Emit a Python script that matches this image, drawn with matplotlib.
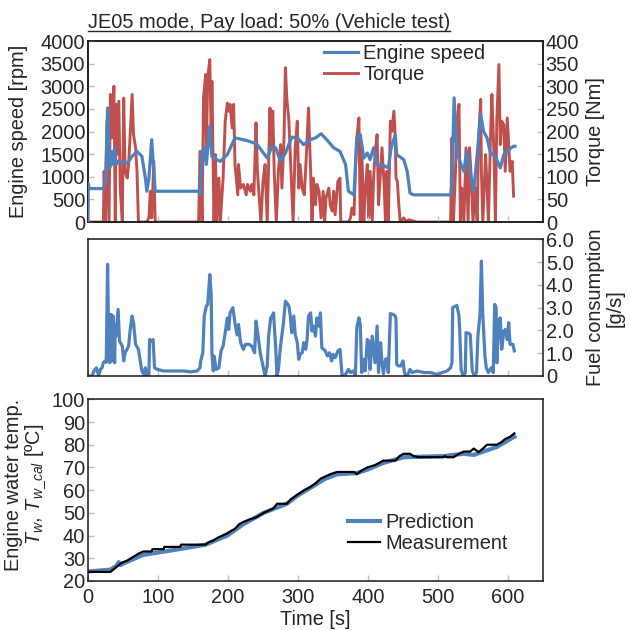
import matplotlib
matplotlib.use("Agg")
import matplotlib.pyplot as plt
from matplotlib.lines import Line2D

plt.rcParams['font.family'] = ['Liberation Sans', 'DejaVu Sans']
plt.rcParams['font.size'] = 14.4
plt.rcParams['mathtext.fontset'] = 'custom'
plt.rcParams['mathtext.rm'] = 'Liberation Sans'
plt.rcParams['mathtext.it'] = 'Liberation Sans:italic'

BLUE = '#4F81BD'
RED = '#C0504D'
TXT = '#262626'
TICK = '#BFBFBF'

# engine speed [rpm]
speed_t = [0, 0.3, 1.5, 22, 25, 28, 31, 33, 34, 38, 40, 43, 56, 63, 70, 77, 82, 84, 87, 91,
           94, 96, 158, 160, 163, 166, 169, 174, 177, 184, 189, 199, 210, 227, 241, 249, 256,
           263, 268, 275, 282, 291, 299, 308, 318, 325, 333, 341, 351, 360, 368, 372, 380,
           384, 389, 394, 399, 403, 408, 413, 422, 429, 433, 439, 441, 451, 456, 460, 465,
           518, 520, 523, 527, 532, 537, 541, 546, 551, 556, 561, 565, 570, 575, 582, 589,
           594, 601, 608, 610]
speed = [0, 850, 740, 740, 900, 2520, 1195, 1560, 1270, 1640, 1270, 1340, 1300, 1450, 1560,
         1450, 970, 680, 970, 1820, 1120, 680, 680, 600, 1560, 1640, 1270, 2120, 1450, 1380,
         1340, 1490, 1860, 1800, 1725, 1560, 1415, 1675, 1640, 1340, 1525, 1875, 1860, 1710,
         1820, 1860, 1950, 1820, 1640, 1560, 1270, 680, 600, 1860, 1930, 1415, 1525, 1380,
         1640, 1270, 1250, 1195, 1640, 1930, 1490, 1380, 1120, 640, 600, 600, 825, 2745, 1560,
         1305, 1120, 1560, 1120, 680, 1490, 2375, 2005, 1860, 1525, 1450, 1195, 1490, 1600,
         1675, 1675]

# torque [Nm]
torque_t = [0, 22, 23, 25, 27, 30, 32, 34, 37, 39, 40, 41, 44, 46, 49, 51, 53, 56, 58, 60,
            63, 65, 68, 70, 72, 84, 87, 89, 91, 94, 96, 158, 160, 163, 165, 168, 169, 171,
            174, 176, 177, 180, 182, 184, 187, 189, 193, 196, 199, 201, 203, 206, 208, 210,
            214, 215, 218, 222, 226, 228, 232, 234, 237, 240, 242, 245, 247, 250, 253, 256,
            260, 261, 264, 266, 269, 272, 275, 277, 280, 282, 284, 287, 290, 293, 296, 299,
            301, 303, 306, 309, 312, 315, 318, 320, 322, 325, 327, 330, 333, 336, 338, 340,
            344, 346, 349, 351, 353, 357, 360, 361, 372, 375, 377, 380, 382, 384, 387, 389,
            391, 394, 396, 399, 401, 403, 406, 408, 410, 413, 415, 418, 420, 423, 425, 427,
            429, 432, 434, 437, 439, 440, 442, 444, 446, 451, 455, 458, 468, 470, 518, 520,
            522, 525, 527, 530, 532, 534, 537, 540, 543, 545, 547, 550, 553, 556, 558, 561,
            562, 564, 568, 570, 572, 575, 577, 580, 582, 584, 587, 589, 591, 594, 596, 599,
            601, 603, 606, 608]
torque = [0, 0, 112, 0, 223, 0, 282, 186, 300, 0, 260, 149, 267, 75, 0, 274, 112, 97, 127,
          186, 282, 193, 164, 112, 0, 0, 9, 68, 9, 134, 0, 0, 156, 0, 274, 326, 149, 319, 359,
          186, 311, 0, 149, 0, 97, 0, 97, 223, 263, 245, 260, 208, 260, 127, 60, 127, 75, 83,
          60, 83, 68, 83, 60, 219, 112, 46, 0, 90, 127, 0, 252, 171, 245, 112, 0, 112, 171,
          75, 186, 341, 274, 223, 112, 0, 164, 223, 75, 127, 75, 60, 149, 252, 112, 0, 97,
          38, 83, 68, 9, 68, 0, 53, 75, 38, 24, 68, 16, 90, 97, 0, 0, 9, 31, 16, 112, 186,
          230, 0, 164, 0, 68, 127, 9, 112, 0, 97, 149, 193, 38, 112, 164, 83, 0, 112, 0, 223,
          200, 245, 186, 97, 90, 38, 0, 9, 0, 5, 1, 0, 0, 186, 0, 112, 223, 260, 0, 75, 0,
          164, 0, 164, 112, 0, 75, 0, 186, 271, 112, 0, 149, 83, 0, 186, 282, 149, 0, 223,
          348, 171, 223, 215, 112, 230, 171, 112, 134, 57]

# fuel consumption [g/s]
fuel_t = [0, 6, 8, 12, 14, 15, 18, 20, 22, 25, 26, 28, 30, 31, 33, 34, 36, 38, 39, 40, 43,
          45, 49, 51, 53, 58, 60, 63, 65, 68, 72, 75, 77, 80, 82, 84, 87, 88, 90, 93, 95, 99,
          108, 122, 137, 146, 156, 160, 161, 164, 166, 169, 171, 174, 176, 177, 179, 180,
          183, 187, 190, 193, 196, 199, 201, 203, 207, 210, 213, 215, 218, 220, 222, 225,
          230, 234, 238, 240, 243, 246, 250, 253, 256, 258, 261, 263, 265, 268, 270, 272,
          275, 279, 282, 284, 287, 289, 291, 294, 296, 299, 301, 303, 306, 308, 311, 313,
          315, 318, 320, 322, 325, 327, 330, 332, 334, 339, 342, 345, 348, 350, 353, 357,
          360, 363, 368, 372, 375, 379, 382, 384, 387, 389, 391, 394, 396, 399, 401, 403,
          406, 408, 410, 413, 415, 418, 420, 422, 425, 427, 429, 432, 436, 439, 440, 441,
          444, 447, 450, 452, 454, 457, 460, 463, 470, 480, 489, 499, 506, 513, 518, 520,
          521, 525, 527, 530, 531, 533, 536, 539, 540, 544, 546, 549, 552, 555, 557, 560,
          562, 564, 567, 569, 572, 576, 579, 581, 583, 584, 587, 589, 591, 594, 596, 599,
          601, 603, 607, 609]
fuel = [0, 0, 0.2, 0.36, 0.15, 0.03, 0.3, 0.36, 0.6, 0.66, 0.6, 4.9, 0.73, 0.58, 2.7, 0.66,
        2.63, 0.58, 2.26, 1.75, 2.92, 1.53, 1.31, 0.66, 1.02, 1.31, 1.97, 2.63, 2.34, 1.39,
        1.17, 0.58, 0.22, 0.07, 0.36, 0, 0.07, 1.6, 1.53, 1.6, 0.36, 0.29, 0.22, 0.22, 0.22,
        0.18, 0.22, 0.36, 0.66, 1.02, 2.63, 3.07, 3.14, 4.45, 3.58, 1.02, 0.22, 0.88, 0.29,
        0.36, 1.1, 1.31, 1.9, 2.55, 2.04, 2.77, 3.0, 2.3, 1.8, 2.26, 1.46, 1.31, 1.17, 1.39,
        1.39, 1.31, 1.02, 2.41, 1.75, 1.02, 0.44, 0, 0.44, 1.75, 2.55, 2.63, 2.77, 1.31, 0,
        0.29, 1.31, 2.26, 3.28, 3.21, 3.07, 2.63, 1.9, 2.63, 1.82, 1.46, 0.73, 0.95, 1.02,
        1.46, 1.17, 1.6, 2.63, 2.77, 1.97, 2.19, 1.75, 2.55, 2.19, 2.77, 1.24, 1.1, 0.88,
        1.02, 0.66, 0.95, 0.8, 1.1, 1.17, 0, 0.07, 0.29, 0.15, 0.22, 0, 2.12, 2.55, 2.26,
        0.15, 0.73, 0.22, 1.6, 1.53, 0.29, 1.75, 1.17, 0.58, 2.19, 0.15, 1.46, 0.58, 0.1,
        0.73, 0.76, 0.15, 2.74, 2.7, 2.63, 2.48, 0.51, 0.44, 0.44, 0.66, 0.15, 0, 0.07, 0.29,
        0.15, 0.22, 0.15, 0.15, 0.07, 0.15, 0.22, 0.36, 0.58, 3.0, 3.07, 3.1, 2.63, 2.04,
        0.29, 0, 0.15, 1.9, 1.87, 1.82, 0.22, 0, 0.15, 1.75, 2.7, 5.04, 2.7, 0.88, 0.36,
        0.15, 0.36, 0.15, 3.14, 3.0, 0.58, 2.48, 2.55, 1.17, 1.97, 2.04, 1.6, 2.34, 1.39,
        1.39, 1.1]

# engine water temperature [ºC]
pred_t = [0, 32, 40, 44, 46, 60, 79, 130, 168, 199, 222, 251, 284, 299, 339, 356, 384, 399,
          422, 451, 508, 522, 537, 551, 565, 584, 609]
pred = [24.2, 25, 26.5, 28.3, 27, 29, 31.5, 34, 36, 40, 45, 50, 54, 57.5, 65, 67, 67.5, 69,
        72, 74.5, 75, 75.5, 76, 75.5, 77, 79, 83.5]

meas_t = [0, 32, 40, 48, 56, 64, 72, 79, 91, 92, 108, 109, 132, 133, 168, 172, 180, 185,
          192, 199, 204, 210, 216, 222, 230, 240, 251, 258, 265, 270, 284, 290, 299, 309,
          318, 325, 332, 339, 346, 356, 380, 384, 390, 399, 410, 422, 439, 445, 451, 460,
          465, 472, 508, 510, 512, 522, 530, 537, 546, 551, 558, 565, 570, 584, 590, 596,
          603, 609]
meas = [24, 24, 26, 28, 29, 30.5, 32, 33, 33, 34, 34, 35, 35, 36, 36, 37, 38, 39, 40, 41, 42,
        43, 45, 46, 47, 48, 50, 51, 52, 54, 54, 56, 58, 60, 61.5, 63, 65, 66, 67, 68, 68, 67,
        68.5, 70, 71, 73, 73, 75, 76, 76, 75, 74.5, 74.5, 75, 74.5, 74.5, 76, 77, 77, 78.3,
        76.8, 78.5, 80, 80, 81, 82.5, 83.5, 85]

time_ticks = [0, 100, 200, 300, 400, 500, 600]
speed_ticks = list(range(0, 4001, 500))
torque_ticks = list(range(0, 401, 50))
fuel_ticks = [0, 1, 2, 3, 4, 5, 6]
fuel_labels = ['0', '1.0', '2.0', '3.0', '4.0', '5.0', '6.0']
temp_ticks = list(range(20, 101, 10))


def style(ax, **kw):
    ax.tick_params(direction='in', length=4, width=1, color=TICK, labelcolor=TXT,
                   pad=2, **kw)
    for s in ax.spines.values():
        s.set_color('#1a1a1a')
        s.set_linewidth(1.1)


fig = plt.figure(figsize=(6.3, 6.3), dpi=100)

# --- top: engine speed and torque
ax1 = fig.add_axes([0.1397, 0.6476, 0.7222, 0.2873])
ax1r = ax1.twinx()
ax1.plot(speed_t, speed, color=BLUE, lw=2.3, label='Engine speed', zorder=3)
ax1r.plot(torque_t, torque, color=RED, lw=2.1, label='Torque')
ax1.set_zorder(ax1r.get_zorder() + 1)
ax1.patch.set_visible(False)
ax1.set_xlim(0, 650)
ax1.set_ylim(0, 4000)
ax1r.set_ylim(0, 400)
ax1.set_xticks(time_ticks)
ax1.set_xticklabels([])
ax1.set_yticks(speed_ticks)
ax1r.set_yticks(torque_ticks)
style(ax1)
style(ax1r)
ax1.set_ylabel('Engine speed [rpm]', color=TXT)
ax1.yaxis.set_label_coords(-0.132, 0.5)
ax1r.set_ylabel('Torque [Nm]', color=TXT)
ax1r.yaxis.set_label_coords(1.095, 0.5)
h1, l1 = ax1.get_legend_handles_labels()
h2, l2 = ax1r.get_legend_handles_labels()
ax1.legend(h1 + h2, l1 + l2, loc='upper left', bbox_to_anchor=(0.519, 0.985),
           frameon=False, borderpad=0, borderaxespad=0, handlelength=1.7,
           handletextpad=0.25, labelspacing=0.1, labelcolor=TXT)

# --- middle: fuel consumption
ax2 = fig.add_axes([0.1397, 0.4032, 0.7222, 0.217])
ax2.plot(fuel_t, fuel, color=BLUE, lw=2.3)
ax2.set_xlim(0, 650)
ax2.set_ylim(0, 6)
ax2.set_xticks(time_ticks)
ax2.set_xticklabels([])
ax2.yaxis.tick_right()
ax2.set_yticks(fuel_ticks)
ax2.set_yticklabels(fuel_labels)
style(ax2)
ax2.yaxis.set_label_position('right')
ax2.set_ylabel('Fuel consumption\n[g/s]', color=TXT, linespacing=1.0)
ax2.yaxis.set_label_coords(1.095, 0.5)

# --- bottom: water temperature
ax3 = fig.add_axes([0.1397, 0.0778, 0.7222, 0.2884])
ax3.plot(pred_t, pred, color=BLUE, lw=3.0, label='Prediction')
ax3.plot(meas_t, meas, color='black', lw=1.6, label='Measurement')
ax3.set_xlim(0, 650)
ax3.set_ylim(20, 100)
ax3.set_xticks(time_ticks)
ax3.set_yticks(temp_ticks)
style(ax3)
ax3.tick_params(axis='x', pad=5)
ax3.set_xlabel('Time [s]', color=TXT, labelpad=2)
ax3.set_ylabel('Engine water temp.\n$T_w$, $T_{w\\_cal}$ [ºC]', color=TXT, linespacing=1.0)
ax3.yaxis.set_label_coords(-0.088, 0.53)
ax3.legend(loc='upper left', bbox_to_anchor=(0.571, 0.375), frameon=False, borderpad=0,
           borderaxespad=0, handlelength=1.6, handletextpad=0.3, labelspacing=0.1,
           labelcolor=TXT)

# title with underline
title = fig.text(88 / 630, 1 - 23 / 630, 'JE05 mode, Pay load: 50% (Vehicle test)',
                 color=TXT, ha='left', va='center')
fig.canvas.draw()
bb = title.get_window_extent().transformed(fig.transFigure.inverted())
fig.add_artist(Line2D([bb.x0, bb.x1], [bb.y0 + 0.002, bb.y0 + 0.002],
                      transform=fig.transFigure, color=TXT, lw=1.0))

fig.savefig('out.png', dpi=100)
